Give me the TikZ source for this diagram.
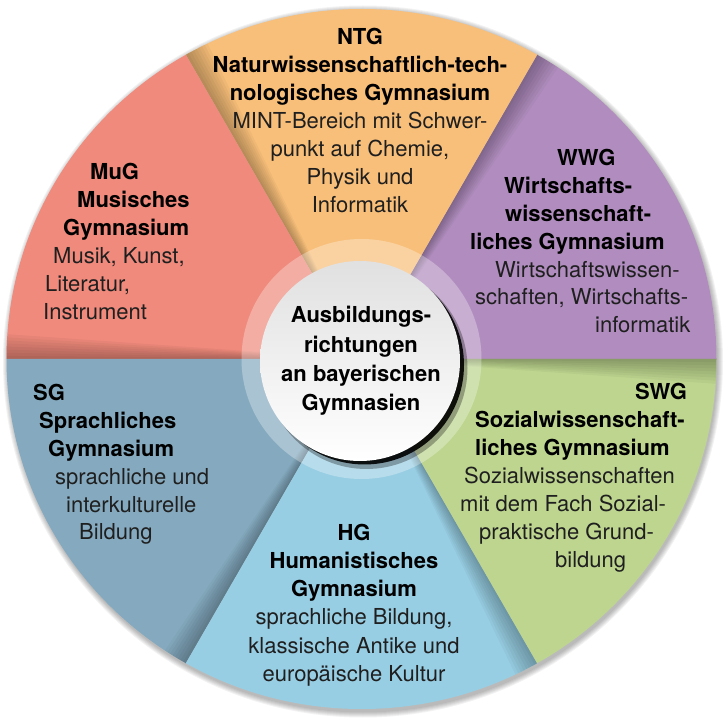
\documentclass[tikz,border=0pt]{standalone}
\usepackage{fontspec}
\setmainfont{TeX Gyre Heros}
\definecolor{mugrot}{RGB}{239,138,124}
\definecolor{ntgorange}{RGB}{248,191,122}
\definecolor{wwglila}{RGB}{177,141,191}
\definecolor{swggruen}{RGB}{189,213,143}
\definecolor{hgblau}{RGB}{152,206,227}
\definecolor{sgblau}{RGB}{133,170,191}
\tikzset{
  info/.style={font=\fontsize{22}{28}\selectfont, anchor=base west, inner sep=0pt, text=black!88},
  titel/.style={info, font=\fontsize{22}{28}\selectfont\bfseries, text=black}
}

\begin{document}
\begin{tikzpicture}[x=1pt, y=1pt]
  \useasboundingbox (0,0) rectangle (724,-719);
  \begin{scope}[shift={(361.5,-359)}]
    % Schatten der Scheibe
    \foreach \k in {1,...,6}
      \fill[black, opacity=0.05] (1.5,-2.5) ellipse[x radius=354+\k, y radius=350+\k];
    \begin{scope}
      \clip (0,0) ellipse[x radius=355, y radius=350];
      \foreach \farbe/\w in {wwglila/0, ntgorange/60, mugrot/120, sgblau/180, hgblau/240, swggruen/300} {
        \fill[\farbe] (0,0) -- (\w:500) -- (\w+60:500) -- cycle;
        \foreach \k in {1,...,8}
          \fill[black, opacity=0.035] (0,0) -- (\w+60:500) -- (\w+60-0.5*\k:500) -- cycle;
      }
    \end{scope}
    % Mitte
    \fill[white, opacity=0.3] (0,0) circle[radius=120];
    \fill[black, opacity=0.3] (5,-9) circle[radius=101];
    \fill[black, opacity=0.9] (3,-6) circle[radius=99.5];
    \shade[top color=black!12, bottom color=white] (-1.5,-2) circle[radius=100];
  \end{scope}
  \node[font=\fontsize{22}{29.3}\selectfont\bfseries, align=center, inner sep=0pt] (mitte) at (361,-361)
    {Ausbildungs-\\richtungen\\an bayerischen\\Gymnasien};

  % NTG
  \foreach \s/\t [count=\i] in {titel/NTG, titel/Naturwissenschaftlich-tech-, titel/nologisches Gymnasium,
      info/MINT-Bereich mit Schwer-, info/{punkt auf Chemie,}, info/Physik und, info/Informatik}
    \node[\s, anchor=base] (ntg\i) at (360,{-45-28*(\i-1)}) {\t};
  % MuG
  \foreach \x/\s/\t [count=\i] in {90/titel/MuG, 77/titel/Musisches, 63/titel/Gymnasium,
      53/info/{Musik, Kunst,}, 45/info/{Literatur,}, 43/info/Instrument}
    \node[\s] (mug\i) at (\x,{-180-28*(\i-1)}) {\t};
  % WWG
  \foreach \x/\s/\t [count=\i] in {557/titel/WWG, 504/titel/Wirtschafts-, 505/titel/wissenschaft-,
      470/titel/liches Gymnasium, 495/info/Wirtschaftswissen-, 475/info/{schaften, Wirtschafts-},
      595/info/informatik}
    \node[\s] (wwg\i) at (\x,{-166-27.8*(\i-1)}) {\t};
  % SWG
  \foreach \x/\s/\t [count=\i] in {635/titel/SWG, 475/titel/Sozialwissenschaft-, 475/titel/liches Gymnasium,
      464/info/Sozialwissenschaften, 460/info/mit dem Fach Sozial-, 479/info/praktische Grund-,
      555/info/bildung}
    \node[\s] (swg\i) at (\x,{-400-28*(\i-1)}) {\t};
  % SG
  \foreach \x/\s/\t [count=\i] in {33/titel/SG, 39/titel/Sprachliches, 48/titel/Gymnasium,
      55/info/sprachliche und, 66/info/interkulturelle, 79/info/Bildung}
    \node[\s] (sg\i) at (\x,{-401-27.8*(\i-1)}) {\t};
  % HG
  \foreach \s/\t [count=\i] in {titel/HG, titel/Humanistisches, titel/Gymnasium,
      info/{sprachliche Bildung,}, info/klassische Antike und, info/europäische Kultur}
    \node[\s, anchor=base] (hg\i) at (354,{-541-28*(\i-1)}) {\t};
\end{tikzpicture}
\end{document}
